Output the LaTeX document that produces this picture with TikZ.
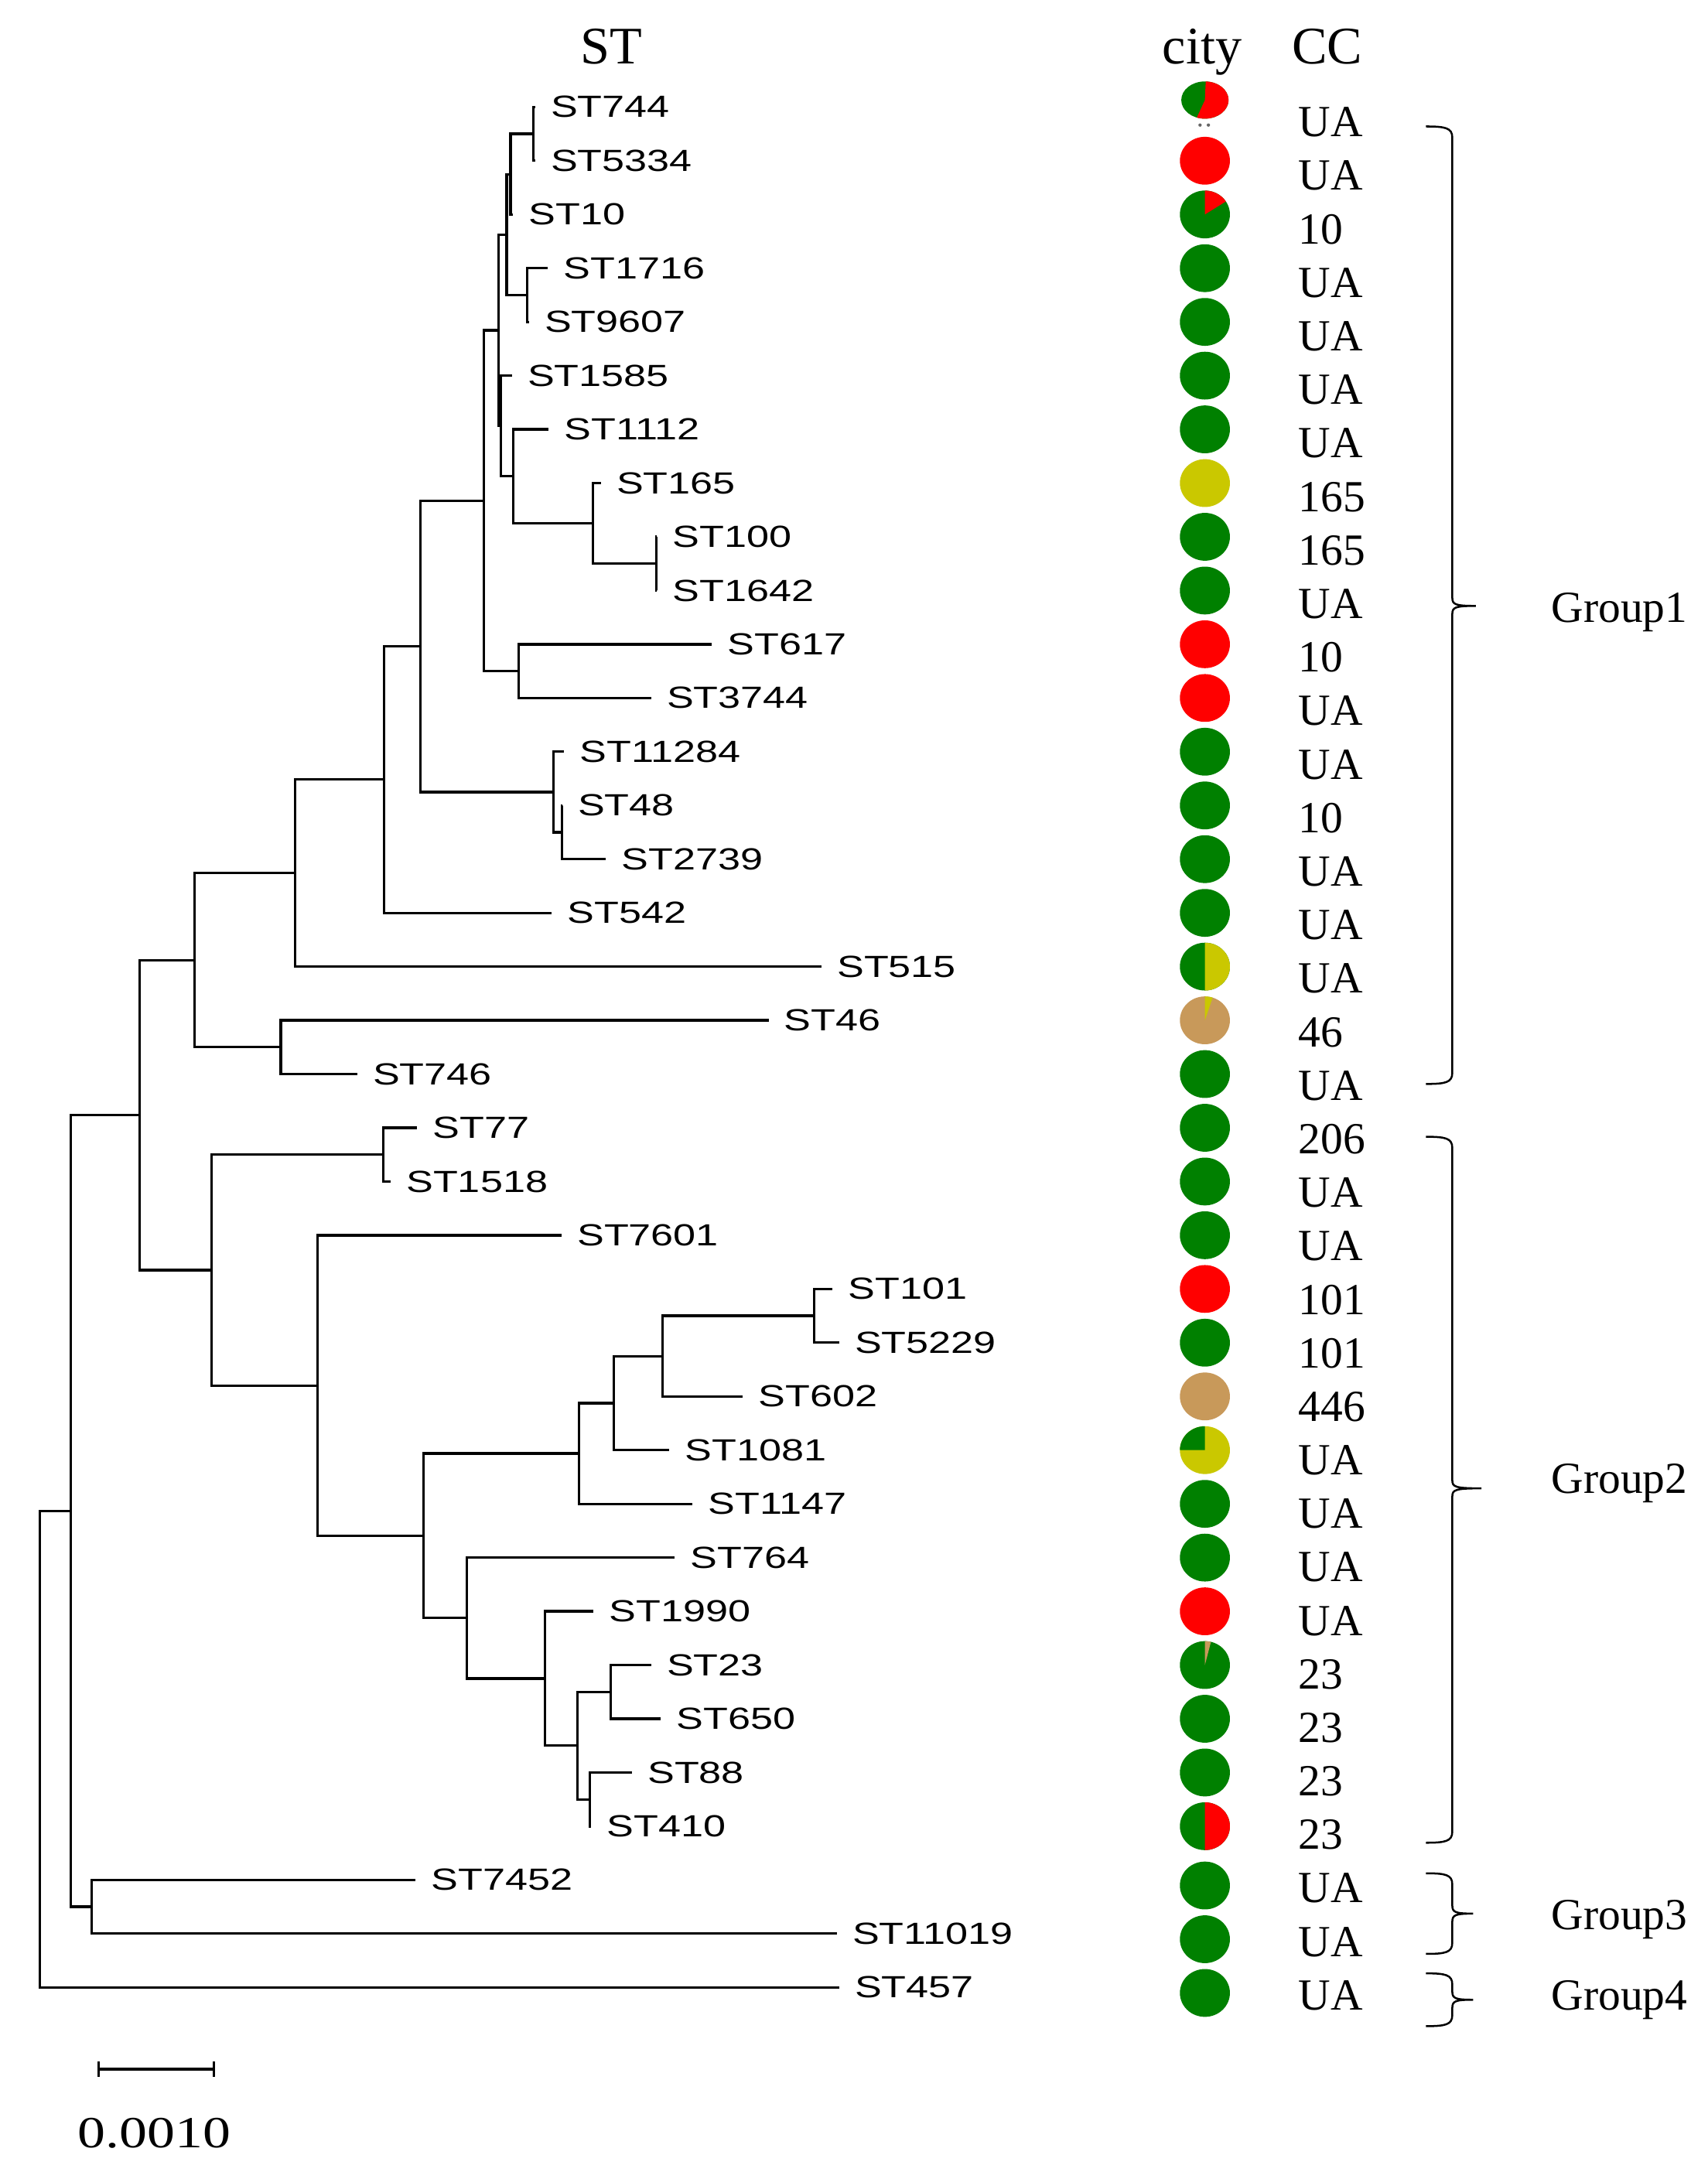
\documentclass[tikz,border=0pt]{standalone}
\usepackage{fontspec}
\setmainfont{Liberation Serif}
\setsansfont{Liberation Sans}
\usetikzlibrary{arrows.meta,calc}
\definecolor{citygreen}{RGB}{0,128,0}
\definecolor{cityred}{RGB}{255,0,0}
\definecolor{cityyellow}{RGB}{202,200,0}
\definecolor{citytan}{RGB}{200,153,90}
\tikzset{%
	branch/.style   = {line width=0.9pt},
	stlabel/.style  = {anchor=west, inner sep=0pt, font=\sffamily\fontsize{11}{11}\selectfont},
	cclabel/.style  = {anchor=west, inner sep=0pt, font=\fontsize{16}{16}\selectfont},
	header/.style   = {anchor=base, inner sep=0pt, font=\fontsize{19}{19}\selectfont},
	grouplab/.style = {anchor=base west, inner sep=0pt, font=\fontsize{16}{16}\selectfont},
	grp/.style      = {line width=0.7pt},
	pie/.style      = {x radius=9pt, y radius=8.6pt},
}
% brace of a group: top, tip, bottom, tip x
\newcommand\groupbrace[4]{%
	\draw[grp] (1026,#1) .. controls (1040,#1) and (1045,{#1+1}) .. (1045,{#1+8}) -- (1045,{#2-6})
		.. controls (1045,{#2-1}) and (1047,#2) .. (#4,#2)
		.. controls (1047,#2) and (1045,{#2+1}) .. (1045,{#2+6}) -- (1045,{#3-8})
		.. controls (1045,{#3-1}) and (1040,#3) .. (1026,#3);}

\begin{document}
\begin{tikzpicture}[x=0.5pt,y=-0.5pt]
		\useasboundingbox[fill=white] (0,0) rectangle (1229,1568);
		% headers
		\node[header] (hst) at (440,46) {ST};
		\node[header] (hcity) at (865,46) {city};
		\node[header] (hcc) at (955,46) {CC};
		% tips and their ST names
		\foreach \i/\x/\name in {0/385/ST744, 1/385/ST5334, 2/369/ST10, 3/394.3/ST1716, 4/380.5/ST9607, 5/368.3/ST1585, 6/394.8/ST1112, 7/432.3/ST165, 8/472.5/ST100, 9/472.5/ST1642, 10/512/ST617, 11/468.5/ST3744, 12/406/ST11284, 13/404.5/ST48, 14/436/ST2739, 15/397/ST542, 16/591/ST515, 17/553/ST46, 18/257/ST746, 19/300/ST77, 20/281/ST1518, 21/404/ST7601, 22/599/ST101, 23/603.7/ST5229, 24/534.5/ST602, 25/481.4/ST1081, 26/498.4/ST1147, 27/485.6/ST764, 28/427/ST1990, 29/468.4/ST23, 30/475.4/ST650, 31/454.6/ST88, 32/425.2/ST410, 33/299/ST7452, 34/602/ST11019, 35/603.7/ST457}
		{
			\coordinate (l\i) at (\x,{77+38.66*\i});
			\node[stlabel] (s\i) at ([xshift=5.5pt]l\i) {\scalebox{1.32}[1]{\name}};
		}
		% inner nodes of the tree
		\coordinate (n01) at (383.7,96.33);
		\coordinate (n012) at (367.4,125.33);
		\coordinate (n34) at (379.4,212.31);
		\coordinate (n04) at (364.6,168.82);
		\coordinate (n89) at (472.2,405.61);
		\coordinate (n79) at (426.7,376.62);
		\coordinate (n69) at (369.3,342.79);
		\coordinate (n59) at (360.5,306.54);
		\coordinate (n09) at (358.6,237.68);
		\coordinate (n1011) at (373,482.93);
		\coordinate (n011) at (348.2,360.31);
		\coordinate (n1314) at (404.2,598.91);
		\coordinate (n1214) at (398.3,569.92);
		\coordinate (n014) at (302.4,465.1);
		\coordinate (n015) at (276.2,561.0);
		\coordinate (n016) at (212.3,628.3);
		\coordinate (n1718) at (202,753.55);
		\coordinate (n018) at (139.8,690.9);
		\coordinate (n1920) at (276,830.87);
		\coordinate (n2223) at (586,946.85);
		\coordinate (n2224) at (476.7,975.85);
		\coordinate (n2225) at (441.7,1009.7);
		\coordinate (n2226) at (416.8,1045.9);
		\coordinate (n2930) at (439.4,1217.5);
		\coordinate (n3132) at (424.6,1294.8);
		\coordinate (n2932) at (415.4,1256.1);
		\coordinate (n2832) at (392.3,1207.8);
		\coordinate (n2732) at (336,1164.3);
		\coordinate (n2232) at (304.6,1105.1);
		\coordinate (n2132) at (228.5,997.0);
		\coordinate (n1932) at (152.3,913.9);
		\coordinate (n032) at (100.6,802.4);
		\coordinate (n3334) at (66,1372.1);
		\coordinate (n034) at (50.8,1087.25);
		\coordinate (root) at (28.6,1258.7);
		\foreach \p/\c in {n01/l0, n01/l1, n012/n01, n012/l2, n34/l3, n34/l4, n04/n012, n04/n34, n89/l8, n89/l9, n79/l7, n79/n89, n69/l6, n69/n79, n59/l5, n59/n69, n09/n04, n09/n59, n1011/l10, n1011/l11, n011/n09, n011/n1011, n1314/l13, n1314/l14, n1214/l12, n1214/n1314, n014/n011, n014/n1214, n015/n014, n015/l15, n016/n015, n016/l16, n1718/l17, n1718/l18, n018/n016, n018/n1718, n1920/l19, n1920/l20, n2223/l22, n2223/l23, n2224/n2223, n2224/l24, n2225/n2224, n2225/l25, n2226/n2225, n2226/l26, n2930/l29, n2930/l30, n3132/l31, n3132/l32, n2932/n2930, n2932/n3132, n2832/l28, n2832/n2932, n2732/l27, n2732/n2832, n2232/n2226, n2232/n2732, n2132/l21, n2132/n2232, n1932/n1920, n1932/n2132, n032/n018, n032/n1932, n3334/l33, n3334/l34, n034/n032, n034/n3334, root/n034, root/l35}
			\draw[branch] (\p) |- (\c);
		% city pies
		\coordinate (p0) at (867,72);
		\fill[citygreen] (p0) ellipse[x radius=8.5pt, y radius=6.7pt];
		\fill[cityred] (p0) -- ++(-110:8.5pt and 6.7pt) arc[start angle=-110, end angle=88, x radius=8.5pt, y radius=6.7pt] -- cycle;
		\fill[black!60] (863.5,90) circle[radius=0.6pt] (869.5,90) circle[radius=0.6pt];
		\foreach \i/\c in {1/cityred, 2/citygreen, 3/citygreen, 4/citygreen, 5/citygreen, 6/citygreen, 7/cityyellow, 8/citygreen, 9/citygreen, 10/cityred, 11/cityred, 12/citygreen, 13/citygreen, 14/citygreen, 15/citygreen, 16/citygreen, 17/citytan, 18/citygreen, 19/citygreen, 20/citygreen, 21/citygreen, 22/cityred, 23/citygreen, 24/citytan, 25/cityyellow, 26/citygreen, 27/citygreen, 28/cityred, 29/citygreen, 30/citygreen, 31/citygreen, 32/citygreen}
		{
			\coordinate (p\i) at (867,{77+38.66*\i});
			\fill[\c] (p\i) ellipse[pie];
		}
		\foreach \i in {33,34,35}
		{
			\coordinate (p\i) at (867,{81+38.66*\i});
			\fill[citygreen] (p\i) ellipse[pie];
		}
		\fill[cityred] (p2) -- ++(90:9pt and 8.6pt) arc[start angle=90, end angle=33, pie] -- cycle;
		\fill[cityyellow] (p16) -- ++(-90:9pt and 8.6pt) arc[start angle=-90, end angle=90, pie] -- cycle;
		\fill[cityyellow] (p17) -- ++(72:9pt and 8.6pt) arc[start angle=72, end angle=90, pie] -- cycle;
		\fill[citygreen] (p25) -- ++(90:9pt and 8.6pt) arc[start angle=90, end angle=180, pie] -- cycle;
		\fill[citytan] (p29) -- ++(76:9pt and 8.6pt) arc[start angle=76, end angle=90, pie] -- cycle;
		\fill[cityred] (p32) -- ++(-90:9pt and 8.6pt) arc[start angle=-90, end angle=90, pie] -- cycle;
		% clonal complexes
		\foreach \i/\cc in {0/UA, 1/UA, 2/10, 3/UA, 4/UA, 5/UA, 6/UA, 7/165, 8/165, 9/UA, 10/10, 11/UA, 12/UA, 13/10, 14/UA, 15/UA, 16/UA, 17/46, 18/UA, 19/206, 20/UA, 21/UA, 22/101, 23/101, 24/446, 25/UA, 26/UA, 27/UA, 28/UA, 29/23, 30/23, 31/23, 32/23, 33/UA, 34/UA, 35/UA}
			\node[cclabel] (cc\i) at (934,{88+38.51*\i}) {\cc};
		% groups
		\groupbrace{91}{436}{780}{1062}
		\groupbrace{818}{1071}{1326}{1066}
		\groupbrace{1348}{1377}{1406}{1060}
		\groupbrace{1420}{1439}{1458}{1060}
		\node[grouplab] (gr1) at (1116,447.6) {Group1};
		\node[grouplab] (gr2) at (1116,1074.6) {Group2};
		\node[grouplab] (gr3) at (1116,1388.6) {Group3};
		\node[grouplab] (gr4) at (1116,1446.6) {Group4};
		% scale bar
		\coordinate (sb1) at (70,1489);
		\coordinate (sb2) at (154.6,1489);
		\draw[branch, {Bar[width=5.5pt]}-{Bar[width=5.5pt]}] (sb1) -- (sb2);
		\node[font=\fontsize{16}{16}\selectfont, inner sep=0pt] (sbl) at (111,1535) {\scalebox{1.25}[1]{0.0010}};
\end{tikzpicture}
\end{document}
